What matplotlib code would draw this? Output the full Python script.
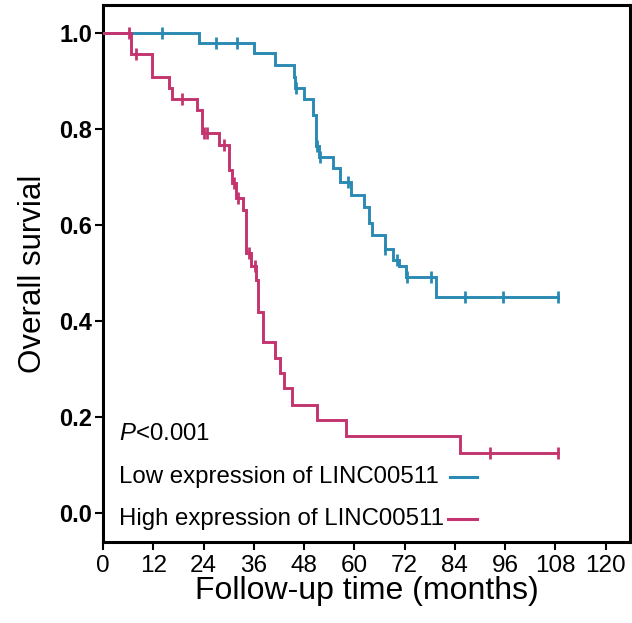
import numpy as np
import matplotlib
matplotlib.use("Agg")
import matplotlib.pyplot as plt
from matplotlib import font_manager as fm

# ---------------- data ----------------
low_times = [0, 23.0, 36.0, 41.0, 45.5, 45.8, 48.0, 50.2, 50.8, 51.6, 55.0, 56.5,
             59.2, 62.3, 63.6, 64.2, 67.2, 69.2, 70.6, 72.4, 79.4]
low_surv = [1.0, 0.978, 0.958, 0.933, 0.908, 0.885, 0.862, 0.830, 0.765, 0.742, 0.718, 0.690,
            0.663, 0.638, 0.604, 0.579, 0.551, 0.527, 0.515, 0.492, 0.451]
low_end = 108.6
low_censor = [14.1, 27.0, 32.0, 46.0, 51.0, 51.9, 58.4, 67.4, 70.3, 72.6, 78.4, 86.4, 95.4, 108.6]

high_times = [0, 6.8, 11.8, 15.8, 16.4, 22.5, 23.7, 27.7, 30.0, 30.9, 31.8, 33.5, 34.2,
              35.3, 36.5, 37.0, 38.2, 41.1, 42.2, 43.1, 45.2, 51.1, 58.0, 85.3]
high_surv = [1.0, 0.955, 0.908, 0.885, 0.862, 0.840, 0.792, 0.767, 0.715, 0.687, 0.656, 0.631, 0.541,
             0.515, 0.485, 0.419, 0.357, 0.324, 0.291, 0.260, 0.226, 0.194, 0.161, 0.126]
high_end = 108.5
high_censor = [6.1, 7.8, 18.9, 24.0, 24.9, 29.0, 31.2, 32.2, 34.9, 36.3, 92.4, 108.5]

x_ticks = [0, 12, 24, 36, 48, 60, 72, 84, 96, 108, 120]
y_ticks = [0.0, 0.2, 0.4, 0.6, 0.8, 1.0]
labels = ["Low expression of LINC00511", "High expression of LINC00511"]
p_text = "<0.001"

BLUE = "#2a8ab3"
PINK = "#c4356f"

# ---------------- fonts ----------------
names = {f.name for f in fm.fontManager.ttflist}
base = "Liberation Sans" if "Liberation Sans" in names else "DejaVu Sans"
narrow = "Liberation Sans Narrow" if "Liberation Sans Narrow" in names else base
plt.rcParams["font.family"] = [base, "DejaVu Sans"]
plt.rcParams["mathtext.fontset"] = "custom"
plt.rcParams["mathtext.it"] = base + ":italic"
plt.rcParams["mathtext.rm"] = base

fig = plt.figure(figsize=(6.32, 6.23), dpi=100)
ax = fig.add_axes([103 / 632, 1 - 542 / 623, (630 - 103) / 632, (542 - 5) / 623])


def km(ax, times, surv, end, censor, color):
    t = list(times) + [end]
    s = list(surv) + [surv[-1]]
    ax.step(t, s, where="post", color=color, lw=2.1, solid_joinstyle="miter", zorder=3)
    idx = np.searchsorted(np.array(times), np.array(censor), side="right") - 1
    cs = np.array(surv)[idx]
    ax.plot(censor, cs, linestyle="none", marker="|", markersize=9,
            markeredgewidth=2.0, color=color, zorder=4)


km(ax, low_times, low_surv, low_end, low_censor, BLUE)
km(ax, high_times, high_surv, high_end, high_censor, PINK)

ax.set_xlim(0, 125.8)
ax.set_ylim(-0.060, 1.058)
ax.set_xticks(x_ticks)
ax.set_yticks(y_ticks)
ax.set_xticklabels([str(v) for v in x_ticks], fontsize=17.5, family=narrow)
ax.set_yticklabels([f"{v:.1f}" for v in y_ticks], fontsize=17, fontweight="bold")
ax.tick_params(axis="both", direction="out", length=6, width=1.5, colors="black")
ax.tick_params(axis="y", pad=2)
ax.tick_params(axis="x", pad=3)
for sp in ax.spines.values():
    sp.set_linewidth(2.2)
    sp.set_color("black")

ax.set_xlabel("Follow-up time (months)", fontsize=23, labelpad=0)
ax.set_ylabel("Overall survial", fontsize=22.5, labelpad=8)

# annotation block
tr = ax.transAxes
ax.text(0.030, (542 - 434) / 537, r"$\mathit{P}$" + p_text, transform=tr, fontsize=17.3,
        va="center", ha="left")
ax.text(0.030, (542 - 477) / 537, labels[0], transform=tr, fontsize=17.3, va="center", ha="left")
ax.text(0.030, (542 - 519) / 537, labels[1], transform=tr, fontsize=17.3, va="center", ha="left")
x0, x1 = (448 - 103) / 527, (477 - 103) / 527
ax.plot([x0 + 0.004, x1], [(542 - 477) / 537] * 2, color=BLUE, lw=2.2, transform=tr, clip_on=False)
ax.plot([x0, x1], [(542 - 519) / 537] * 2, color=PINK, lw=2.2, transform=tr, clip_on=False)

fig.savefig("out.png", dpi=100)
